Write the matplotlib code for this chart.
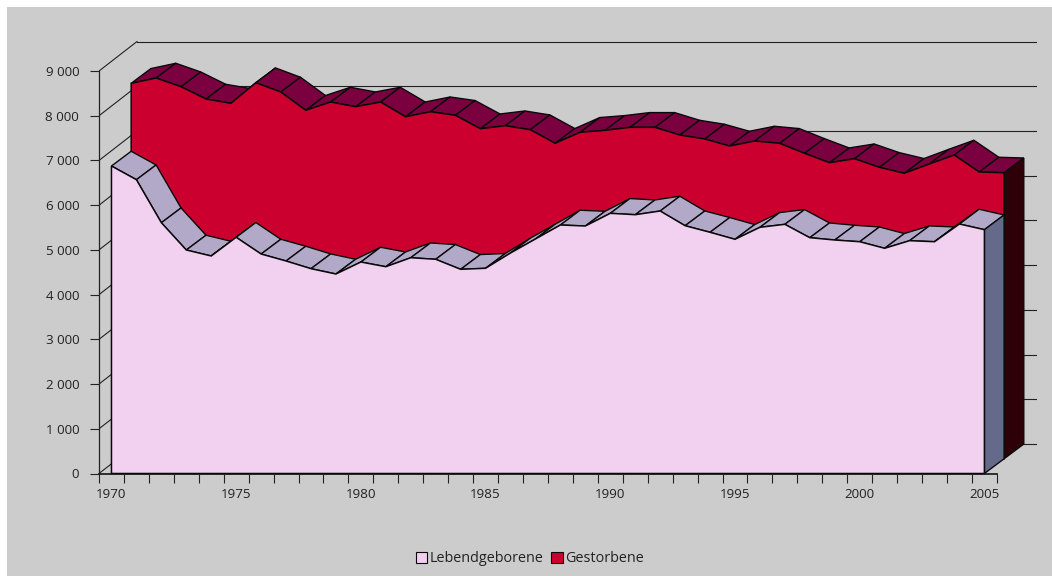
"""Oblique 3D area chart: Lebendgeborene and Gestorbene, 1970-2005."""
import numpy as np
import matplotlib
matplotlib.use("Agg")
import matplotlib.pyplot as plt
from matplotlib.patches import Rectangle, Patch, Polygon
from matplotlib.ticker import FuncFormatter

plt.rcParams["font.family"] = ["Open Sans", "DejaVu Sans"]

years = list(range(1970, 2006))
lebendgeborene = [6876, 6570, 5608, 4998, 4864, 5282, 4908, 4752, 4580, 4461, 4729, 4624,
                  4825, 4790, 4566, 4589, 4931, 5244, 5557, 5534, 5818, 5787, 5870, 5541,
                  5394, 5237, 5505, 5572, 5273, 5221, 5183, 5036, 5206, 5183, 5579, 5452]
gestorbene = [8395, 8514, 8319, 8044, 7948, 8409, 8201, 7792, 7977, 7872, 7977, 7648,
              7760, 7680, 7380, 7447, 7358, 7054, 7300, 7344, 7411, 7411, 7239, 7150,
              6993, 7105, 7053, 6830, 6620, 6709, 6517, 6383, 6591, 6792, 6412, 6396]
y_ticks = [0, 1000, 2000, 3000, 4000, 5000, 6000, 7000, 8000, 9000]

W, H = 1052, 576
X0, PX_CAT = 111.5, 24.94      # pixel of first category, pixels per category
Y0, PX_VAL = 473.5, 0.04472    # pixel of value 0, pixels per unit
DX = 19.7 / PX_CAT             # one series of depth, in data units
DY = 14.75 / PX_VAL
WALL_DX = 38 / PX_CAT          # offset of the back wall
WALL_DY = 29.5 / PX_VAL
LEFT, RIGHT, TOP = 99, 1037, 41
GRAY = "#cccccc"
INK = "#0a0a0a"

fig = plt.figure(figsize=(W / 100, H / 100), dpi=100, facecolor="white")
fig.add_artist(Rectangle((7 / W, 0), 1 - 7 / W, 1 - 7 / H, transform=fig.transFigure,
                         facecolor=GRAY, edgecolor="none", zorder=-5))

ax = fig.add_axes([LEFT / W, 1 - Y0 / H, (RIGHT - LEFT) / W, (Y0 - TOP) / H])
ax.patch.set_alpha(0)
ax.set_xlim(-0.5, (RIGHT - X0) / PX_CAT)
ax.set_ylim(0, (Y0 - TOP) / PX_VAL)


def draw_series(values, depth, face, top, side):
    """Draw one area: top strips, right end, then the front face over them."""
    xs = np.arange(len(values)) + depth * DX
    ys = np.array(values) + depth * DY
    base = depth * DY
    for i in range(len(xs) - 1):
        quad = [(xs[i], ys[i]), (xs[i + 1], ys[i + 1]),
                (xs[i + 1] + DX, ys[i + 1] + DY), (xs[i] + DX, ys[i] + DY)]
        ax.add_patch(Polygon(quad, facecolor=top, edgecolor=INK, lw=1.0, zorder=3, clip_on=False))
    end = [(xs[-1], base), (xs[-1], ys[-1]), (xs[-1] + DX, ys[-1] + DY), (xs[-1] + DX, base + DY)]
    ax.add_patch(Polygon(end, facecolor=side, edgecolor=INK, lw=1.0, zorder=3, clip_on=False))
    outline = [(xs[0], base)] + list(zip(xs, ys)) + [(xs[-1], base)]
    ax.add_patch(Polygon(outline, facecolor=face, edgecolor=INK, lw=1.1, zorder=3, clip_on=False))


# walls: gridlines on the back wall and diagonals on the left wall
for v in y_ticks:
    ax.plot([-0.5, -0.5 + WALL_DX], [v, v + WALL_DY], color="#222222", lw=0.8, zorder=1)
    ax.plot([-0.5 + WALL_DX, ax.get_xlim()[1]], [v + WALL_DY, v + WALL_DY],
            color="#222222", lw=0.8, zorder=1)

draw_series(gestorbene, 1, "#cc002e", "#7a0040", "#2e0008")
draw_series(lebendgeborene, 0, "#f2d0f0", "#b2a8c8", "#666a8a")

# axes
for name in ("top", "right"):
    ax.spines[name].set_visible(False)
ax.spines["left"].set_color("#222222")
ax.spines["left"].set_linewidth(0.9)
ax.spines["left"].set_bounds(0, 9000)
ax.spines["bottom"].set_color("#222222")
ax.spines["bottom"].set_linewidth(1.3)
ax.spines["bottom"].set_bounds(-0.5, 35.5)
ax.set_yticks(y_ticks)
ax.yaxis.set_major_formatter(FuncFormatter(lambda v, _: f"{int(v):,}".replace(",", " ")))
ax.set_xticks(np.arange(-0.5, 36, 1))
ax.set_xticklabels([])
ax.set_xticks(np.arange(0, 36, 5), labels=[str(y) for y in years[::5]], minor=True)
ax.tick_params(axis="x", which="major", length=6.5, width=0.8, color="#222222")
ax.tick_params(axis="x", which="minor", length=0, pad=10.2, labelsize=9.6, labelcolor="#222222")
ax.tick_params(axis="y", length=6.8, width=0.8, color="#222222", pad=7.5, labelsize=9.6,
               labelcolor="#222222")

handles = [Patch(facecolor="#f2d0f0", edgecolor=INK, lw=0.8, label="Lebendgeborene"),
           Patch(facecolor="#cc002e", edgecolor=INK, lw=0.8, label="Gestorbene")]
fig.legend(handles=handles, loc="center", bbox_to_anchor=(530 / W, 1 - 559 / H), ncol=2,
           frameon=False, fontsize=10.4, handlelength=0.8, handleheight=0.8, handletextpad=0.2,
           columnspacing=0.5, labelcolor="#222222", borderpad=0)

fig.savefig("out.png", dpi=100, facecolor=fig.get_facecolor())
